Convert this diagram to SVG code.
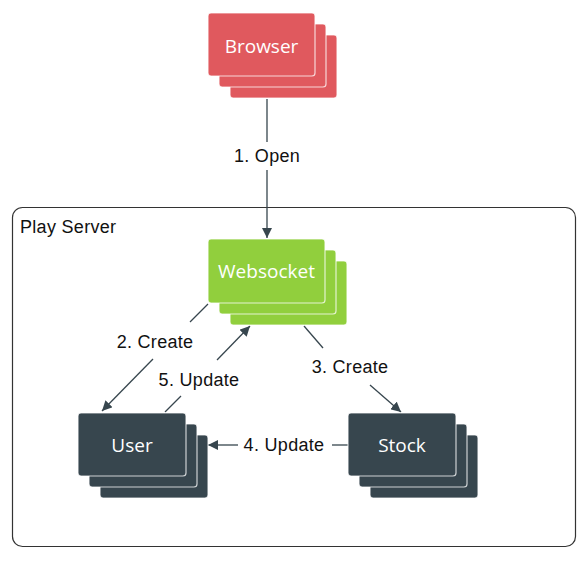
<svg xmlns="http://www.w3.org/2000/svg" width="588" height="561" viewBox="0 0 588 561">
<defs>
<style>
.card{stroke:#ffffff;stroke-opacity:0.75;stroke-width:1.2}
.red{fill:#e0595e}
.green{fill:#91cf3d}
.dark{fill:#37464e}
.nlabel{font-family:"Open Sans","DejaVu Sans",sans-serif;font-size:19px;fill:#ffffff;text-anchor:middle}
.elabel{font-family:"Liberation Sans",Arial,sans-serif;font-size:18px;letter-spacing:0.3px;fill:#111111;text-anchor:middle}
.edge{stroke:#37464e;stroke-width:1.3;fill:none}
</style>
<marker id="arr" viewBox="0 0 10 10" refX="10" refY="5" markerWidth="10" markerHeight="10" markerUnits="userSpaceOnUse" orient="auto">
<path d="M0,0 L10,5 L0,10 z" fill="#37464e"/>
</marker>
</defs>
<rect width="588" height="561" fill="#ffffff"/>
<g id="play-server">
<rect x="12.5" y="207.5" width="563" height="339" rx="10" fill="none" stroke="#333333" stroke-width="1.2"/>
<text x="20" y="233" font-family="Liberation Sans, Arial, sans-serif" font-size="18" letter-spacing="0.3" fill="#111111">Play Server</text>
</g>
<g id="connectors">
<line class="edge" x1="267" y1="99" x2="267" y2="142"/>
<line class="edge" x1="267" y1="170" x2="267" y2="238" marker-end="url(#arr)"/>
<text class="elabel" x="267" y="162">1. Open</text>
<line class="edge" x1="208" y1="304" x2="190" y2="322"/>
<line class="edge" x1="153" y1="359" x2="102" y2="411" marker-end="url(#arr)"/>
<text class="elabel" x="155" y="348">2. Create</text>
<line class="edge" x1="165" y1="412" x2="181" y2="396"/>
<line class="edge" x1="217" y1="360" x2="250" y2="326" marker-end="url(#arr)"/>
<text class="elabel" x="199" y="386">5. Update</text>
<line class="edge" x1="304" y1="326" x2="323" y2="348"/>
<line class="edge" x1="370" y1="385" x2="401" y2="412" marker-end="url(#arr)"/>
<text class="elabel" x="350" y="373">3. Create</text>
<line class="edge" x1="348" y1="445" x2="332" y2="445"/>
<line class="edge" x1="238" y1="445" x2="208" y2="445" marker-end="url(#arr)"/>
<text class="elabel" x="284" y="451">4. Update</text>
</g>
<g id="browser">
<rect class="card red" x="230" y="35" width="107" height="63" rx="3"/>
<rect class="card red" x="219" y="24" width="107" height="63" rx="3"/>
<rect class="card red" x="208" y="13" width="107" height="63" rx="3"/>
<text class="nlabel" x="261.5" y="52.5">Browser</text>
</g>
<g id="websocket">
<rect class="card green" x="230" y="261" width="117" height="64" rx="3"/>
<rect class="card green" x="219" y="250" width="117" height="64" rx="3"/>
<rect class="card green" x="208" y="239" width="117" height="64" rx="3"/>
<text class="nlabel" x="266.5" y="278">Websocket</text>
</g>
<g id="user">
<rect class="card dark" x="100" y="435" width="108" height="63" rx="3"/>
<rect class="card dark" x="89" y="424" width="108" height="63" rx="3"/>
<rect class="card dark" x="78" y="413" width="108" height="63" rx="3"/>
<text class="nlabel" x="132" y="451.5">User</text>
</g>
<g id="stock">
<rect class="card dark" x="370" y="435" width="108" height="63" rx="3"/>
<rect class="card dark" x="359" y="424" width="108" height="63" rx="3"/>
<rect class="card dark" x="348" y="413" width="108" height="63" rx="3"/>
<text class="nlabel" x="402" y="451.5">Stock</text>
</g>
</svg>
